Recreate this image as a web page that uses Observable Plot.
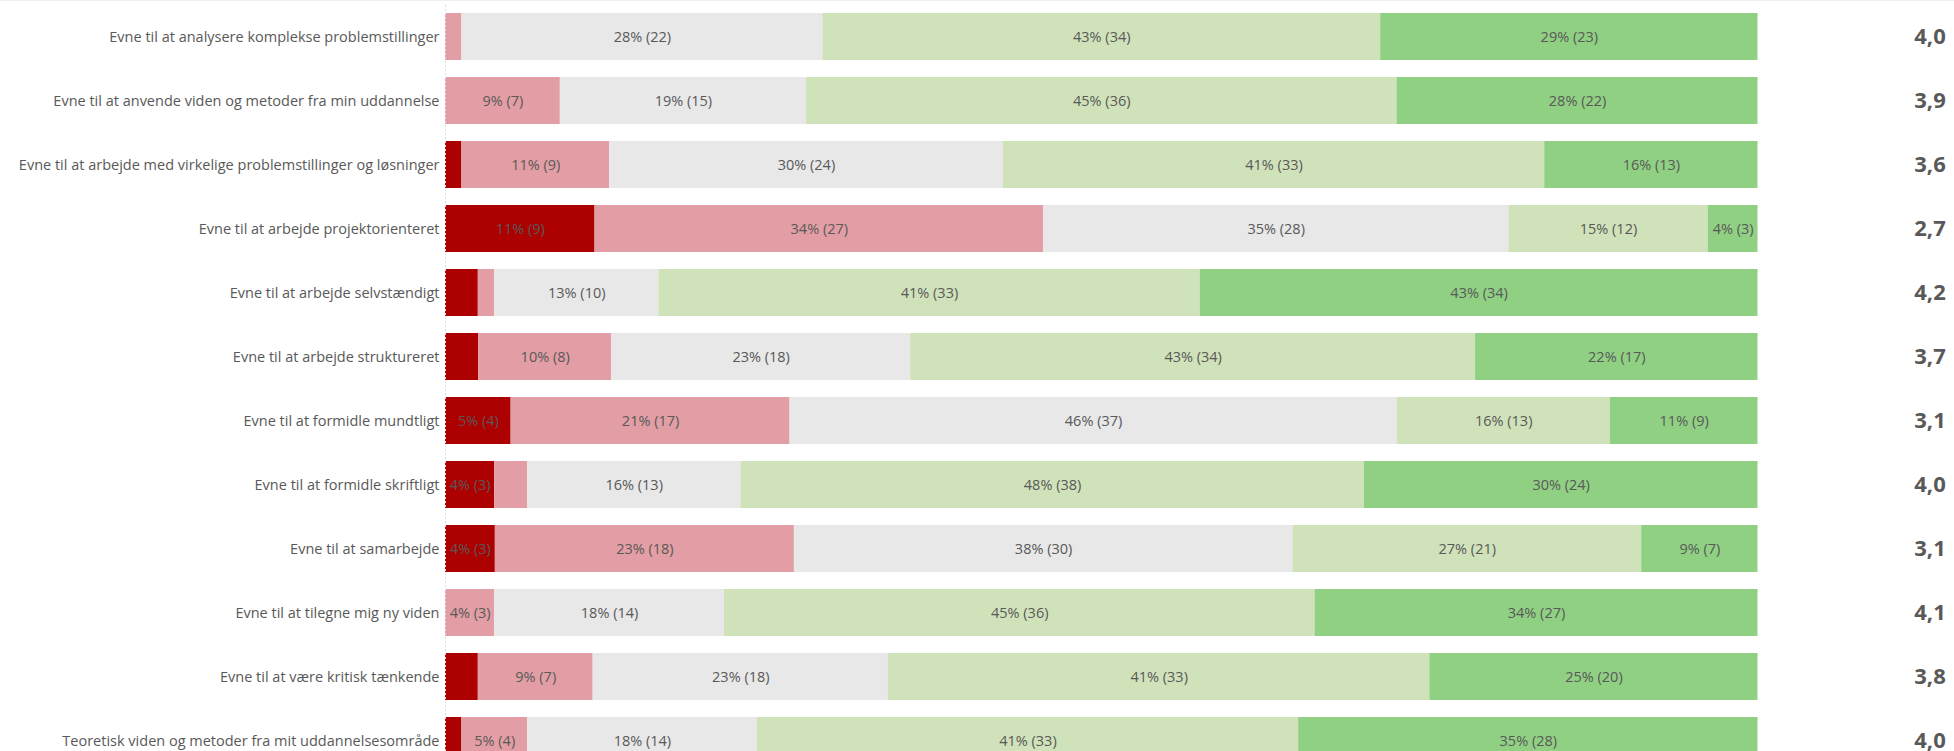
<!DOCTYPE html>
<html>
<head>
<meta charset="utf-8">
<script src="https://cdn.jsdelivr.net/npm/d3@7"></script>
<script src="https://cdn.jsdelivr.net/npm/@observablehq/plot@0.6"></script>
<style>
  html, body { margin: 0; padding: 0; background: #fff; overflow: hidden; }
  #chart { border-top: 1px solid #efefef; width: 1954px; height: 750px; overflow: hidden; }
</style>
</head>
<body>
<div id="chart"></div>
<script>
const items = [
  "Evne til at analysere komplekse problemstillinger",
  "Evne til at anvende viden og metoder fra min uddannelse",
  "Evne til at arbejde med virkelige problemstillinger og løsninger",
  "Evne til at arbejde projektorienteret",
  "Evne til at arbejde selvstændigt",
  "Evne til at arbejde struktureret",
  "Evne til at formidle mundtligt",
  "Evne til at formidle skriftligt",
  "Evne til at samarbejde",
  "Evne til at tilegne mig ny viden",
  "Evne til at være kritisk tænkende",
  "Teoretisk viden og metoder fra mit uddannelsesområde"
];
const categories = ["I meget lav grad", "I lav grad", "I nogen grad", "I høj grad", "I meget høj grad"];
const veryLow  = [0, 0, 1, 9, 2, 2, 4, 3, 3, 0, 2, 1];
const low      = [1, 7, 9, 27, 1, 8, 17, 2, 18, 3, 7, 4];
const medium   = [22, 15, 24, 28, 10, 18, 37, 13, 30, 14, 18, 14];
const high     = [34, 36, 33, 12, 33, 34, 13, 38, 21, 36, 33, 33];
const veryHigh = [23, 22, 13, 3, 34, 17, 9, 24, 7, 27, 20, 28];
const means = ["4,0", "3,9", "3,6", "2,7", "4,2", "3,7", "3,1", "4,0", "3,1", "4,1", "3,8", "4,0"];
const colors = ["#ad0000", "#e29ea4", "#e8e8e8", "#d0e2ba", "#90d083"];

const series = [veryLow, low, medium, high, veryHigh];
const rows = [];
items.forEach((item, i) => {
  const total = d3.sum(series, s => s[i]);
  series.forEach((s, j) => {
    const count = s[i];
    const pct = count / total * 100;
    rows.push({
      item, cat: categories[j], count, pct,
      label: count >= 3 ? `${Math.round(pct)}% (${count})` : ""
    });
  });
});

const chart = Plot.plot({
  width: 1954,
  height: 750,
  marginLeft: 445,
  marginRight: 196.5,
  marginTop: 4,
  marginBottom: 0,
  style: {
    fontFamily: "'Open Sans', sans-serif",
    fontSize: "14.5px",
    color: "#595959",
    background: "#fff",
    overflow: "hidden"
  },
  x: { domain: [0, 100], axis: null },
  y: { domain: items, range: [4, 772], paddingInner: 0.26, paddingOuter: 0.13, tickSize: 0, tickPadding: 6, label: null },
  color: { domain: categories, range: colors },
  marks: [
    Plot.barX(rows, Plot.stackX({ x: "pct", y: "item", fill: "cat" })),
    Plot.ruleX([0], { stroke: "#dcdcdc", strokeDasharray: "2,2" }),
    Plot.text(rows, Plot.stackX({ x: "pct", y: "item", z: "cat", text: "label", fill: "#595959" })),
    Plot.text(items, { y: d => d, text: means, frameAnchor: "right", dx: 172, textAnchor: "middle", fontWeight: "bold", fontSize: 22, fill: "#595959" })
  ]
});
document.getElementById("chart").appendChild(chart);
</script>
</body>
</html>
